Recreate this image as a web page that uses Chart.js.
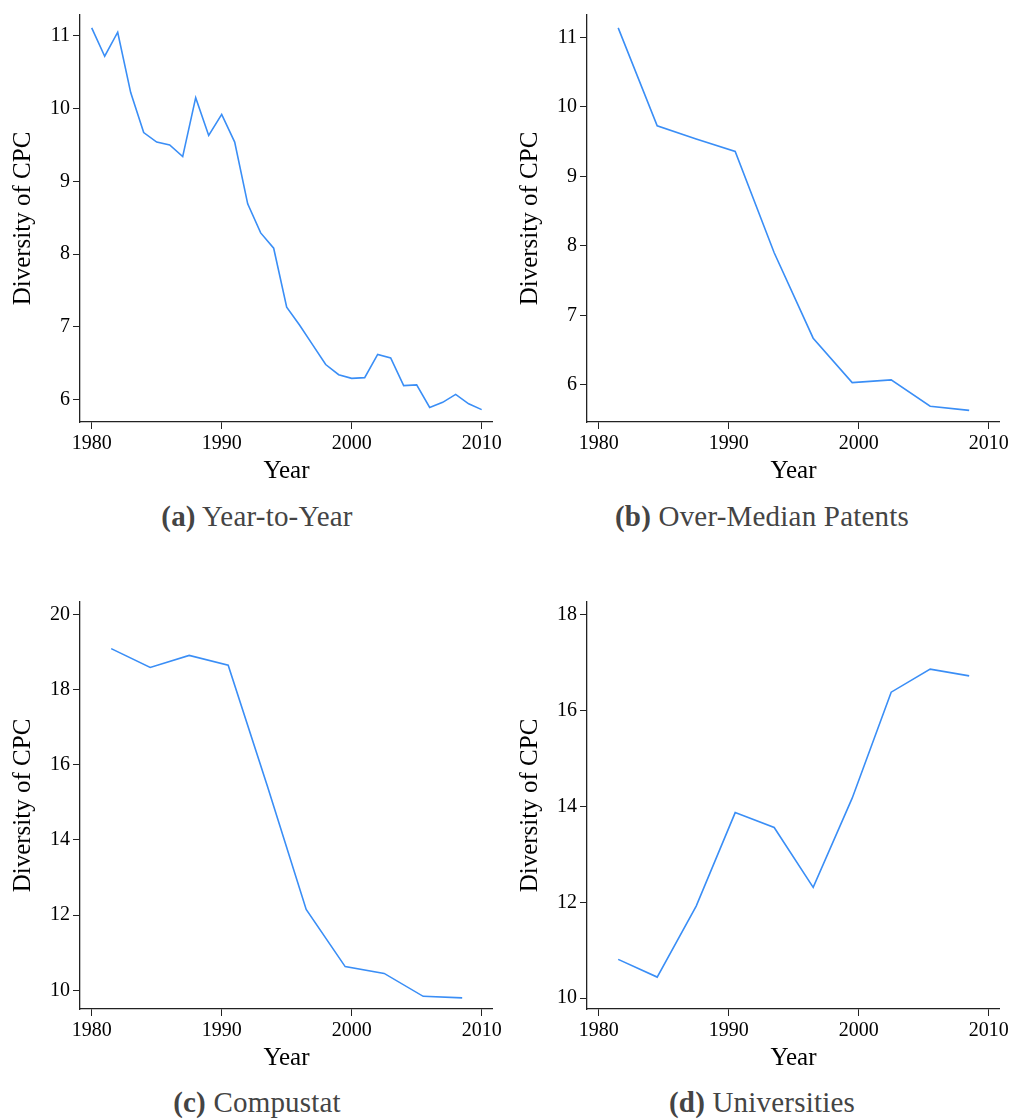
<!DOCTYPE html>
<html>
<head>
<meta charset="utf-8">
<script src="https://cdn.jsdelivr.net/npm/chart.js@4.4.1/dist/chart.umd.min.js"></script>
<style>
  body { margin: 0; background: #fff; }
  #wrap { position: relative; width: 1013px; height: 1120px; }
  .panel { position: absolute; }
  .cap {
    position: absolute; width: 506px; text-align: center;
    font-family: "Liberation Serif", serif; font-size: 29px; color: #444;
    letter-spacing: 0.2px;
  }
  .cap b { font-weight: bold; }
</style>
</head>
<body>
<div id="wrap">
  <div class="panel" style="left:0;top:0;width:505px;height:490px"><canvas id="chart-a"></canvas></div>
  <div class="panel" style="left:507px;top:0;width:505px;height:490px"><canvas id="chart-b"></canvas></div>
  <div class="panel" style="left:0;top:587px;width:505px;height:490px"><canvas id="chart-c"></canvas></div>
  <div class="panel" style="left:507px;top:587px;width:505px;height:490px"><canvas id="chart-d"></canvas></div>
  <div class="cap" style="left:4px;top:500px"><b>(a)</b> Year-to-Year</div>
  <div class="cap" style="left:509px;top:500px"><b>(b)</b> Over-Median Patents</div>
  <div class="cap" style="left:4px;top:1086px"><b>(c)</b> Compustat</div>
  <div class="cap" style="left:509px;top:1086px"><b>(d)</b> Universities</div>
</div>
<script>
// años y valores
const years = [1980, 1981, 1982, 1983, 1984, 1985, 1986, 1987, 1988, 1989,
  1990, 1991, 1992, 1993, 1994, 1995, 1996, 1997, 1998, 1999,
  2000, 2001, 2002, 2003, 2004, 2005, 2006, 2007, 2008, 2009, 2010];
const yearToYear = [11.11, 10.72, 11.05, 10.22, 9.67, 9.54, 9.50, 9.34, 10.15, 9.63,
  9.92, 9.54, 8.69, 8.29, 8.08, 7.27, 7.02, 6.75, 6.48, 6.34,
  6.29, 6.30, 6.62, 6.57, 6.19, 6.20, 5.89, 5.96, 6.07, 5.94, 5.86];
const binYears = [1981.5, 1984.5, 1987.5, 1990.5, 1993.5, 1996.5, 1999.5, 2002.5, 2005.5, 2008.5];
const overMedian = [11.14, 9.73, 9.54, 9.36, 7.90, 6.67, 6.03, 6.07, 5.69, 5.63];
const compustat = [19.09, 18.59, 18.91, 18.65, 15.45, 12.15, 10.63, 10.45, 9.84, 9.80];
const universities = [10.81, 10.44, 11.92, 13.87, 13.56, 12.31, 14.17, 16.38, 16.86, 16.72];

const xTicks = [1980, 1990, 2000, 2010];
const yTicksA = [6, 7, 8, 9, 10, 11];
const yTicksB = [6, 7, 8, 9, 10, 11];
const yTicksC = [10, 12, 14, 16, 18, 20];
const yTicksD = [10, 12, 14, 16, 18];

const yLabel = "Diversity of CPC";
const xLabel = "Year";

const serif = "'Liberation Serif', 'Times New Roman', serif";
const lineColor = "#3a8ef6";
const axisColor = "#222";

function makeChart(id, xs, ys, yTicks, ymin, ymax) {
  const ctx = document.getElementById(id).getContext("2d");
  const pts = xs.map((x, i) => ({ x: x, y: ys[i] }));
  return new Chart(ctx, {
    type: "line",
    data: {
      datasets: [{
        data: pts,
        borderColor: lineColor,
        borderWidth: 1.6,
        pointRadius: 0,
        tension: 0,
        fill: false,
      }],
    },
    options: {
      responsive: true,
      maintainAspectRatio: false,
      animation: false,
      layout: { padding: { top: 7, right: 12, bottom: 0, left: 0 } },
      plugins: { legend: { display: false }, tooltip: { enabled: false } },
      scales: {
        x: {
          type: "linear",
          min: 1979.1,
          max: 2010.87,
          afterBuildTicks: (s) => { s.ticks = xTicks.map((v) => ({ value: v })); },
          afterFit: (s) => { s.height = 68; },
          grid: { drawOnChartArea: false, tickLength: 7, color: axisColor },
          border: { color: axisColor, width: 1.3 },
          ticks: {
            color: "#000",
            padding: 3,
            maxRotation: 0,
            font: { family: serif, size: 20 },
            callback: (v) => String(v),
          },
          title: {
            display: true,
            text: xLabel,
            color: "#000",
            font: { family: serif, size: 25 },
            padding: { top: 0, bottom: 4 },
          },
        },
        y: {
          min: ymin,
          max: ymax,
          afterBuildTicks: (s) => { s.ticks = yTicks.map((v) => ({ value: v })); },
          afterFit: (s) => { s.width = 80; },
          grid: { drawOnChartArea: false, tickLength: 7, color: axisColor },
          border: { color: axisColor, width: 1.3 },
          ticks: {
            color: "#000",
            padding: 3,
            font: { family: serif, size: 20 },
            callback: (v) => String(v),
          },
          title: {
            display: true,
            text: yLabel,
            color: "#000",
            font: { family: serif, size: 25 },
            padding: { top: 8, bottom: 0 },
          },
        },
      },
    },
  });
}

makeChart("chart-a", years, yearToYear, yTicksA, 5.69, 11.287);
makeChart("chart-b", binYears, overMedian, yTicksB, 5.463, 11.325);
makeChart("chart-c", binYears, compustat, yTicksC, 9.503, 20.33);
makeChart("chart-d", binYears, universities, yTicksD, 9.775, 18.26);
</script>
</body>
</html>
